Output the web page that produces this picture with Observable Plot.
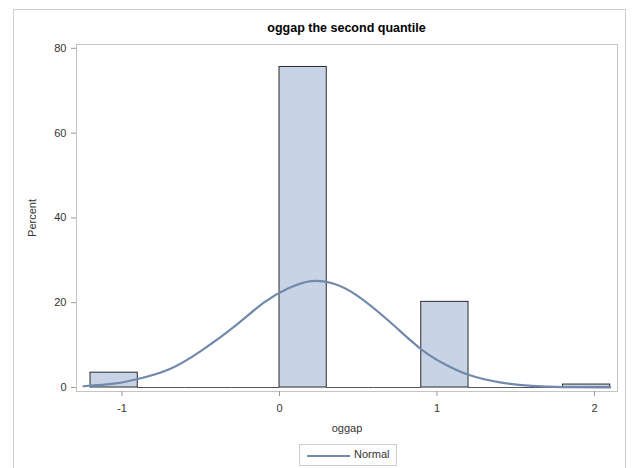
<!DOCTYPE html>
<html>
<head>
<meta charset="utf-8">
<script src="https://cdn.jsdelivr.net/npm/d3@7"></script>
<script src="https://cdn.jsdelivr.net/npm/@observablehq/plot@0.6"></script>
<style>
  body { margin: 0; background: #fff; font-family: "Liberation Sans", Arial, sans-serif; }
  #wrap { position: relative; width: 636px; height: 468px; overflow: hidden; }
  #border { position: absolute; left: 13px; top: 9px; width: 613px; height: 480px; border: 1px solid #cfcfcf; box-sizing: border-box; }
  #title { position: absolute; left: 76px; width: 541px; top: 21px; text-align: center; font-weight: bold; font-size: 12.5px; color: #000; }
  #legend { position: absolute; left: 299px; top: 444px; width: 98px; height: 22px; border: 1px solid #cfcfcf; box-sizing: border-box; font-size: 11px; color: #333; }
  #legend .ln { position: absolute; left: 7px; top: 10px; width: 43px; height: 0; border-top: 2px solid #7189ac; }
  #legend .tx { position: absolute; left: 54px; top: 3px; }
  #chart { position: absolute; left: 0; top: 0; }
</style>
</head>
<body>
<div id="wrap">
  <div id="border"></div>
  <div id="chart"></div>
  <div id="title">oggap the second quantile</div>
  <div id="legend"><div class="ln"></div><div class="tx">Normal</div></div>
</div>
<script>
// Histogram bins (width 0.3) and percent heights
const binStart = [-1.2, -0.9, -0.6, -0.3, 0.0, 0.3, 0.6, 0.9, 1.2, 1.5, 1.8];
const binEnd   = [-0.9, -0.6, -0.3, 0.0, 0.3, 0.6, 0.9, 1.2, 1.5, 1.8, 2.1];
const percent  = [3.5, 0, 0, 0, 75.6, 0, 0, 20.2, 0, 0, 0.7];

// Normal curve points
const curveX = [-1.245, -1.05, -0.9, -0.7, -0.5, -0.3, -0.1, 0.05, 0.2, 0.35, 0.5, 0.7, 0.9, 1.05, 1.2, 1.4, 1.6, 1.8, 2.1];
const curveY = [0.3, 0.9, 2.0, 4.3, 8.6, 14.0, 20.0, 23.3, 25.1, 24.4, 21.5, 15.5, 9.0, 5.5, 3.0, 1.2, 0.4, 0.1, 0.0];

const xTicks = [-1, 0, 1, 2];
const yTicks = [0, 20, 40, 60, 80];

const bins = binStart.map((s, i) => ({x1: s, x2: binEnd[i], y: percent[i]}));
const curve = curveX.map((x, i) => ({x, y: curveY[i]}));

const chart = Plot.plot({
  width: 636,
  height: 468,
  marginLeft: 76,
  marginRight: 19,
  marginTop: 44,
  marginBottom: 77,
  style: {fontFamily: "'Liberation Sans', Arial, sans-serif", fontSize: "11px", color: "#333", background: "transparent"},
  x: {domain: [-1.289, 2.146]},
  y: {domain: [-0.94, 80.9]},
  marks: [
    Plot.frame({stroke: "#c4c4c4"}),
    Plot.ruleY(bins.filter(d => d.y === 0), {x1: "x1", x2: "x2", y: 0, stroke: "#555", strokeWidth: 1}),
    Plot.rectY(bins.filter(d => d.y > 0), {x1: "x1", x2: "x2", y1: 0, y2: "y", fill: "#c8d4e5", stroke: "#2a2a2a", strokeWidth: 1}),
    Plot.line(curve, {x: "x", y: "y", curve: "natural", stroke: "#7189ac", strokeWidth: 2.2}),
    Plot.axisX({ticks: xTicks, tickFormat: d => String(d), tickSize: 5, tickPadding: 8, stroke: "#999", fill: "#333", label: "oggap", labelAnchor: "center", labelArrow: "none", labelOffset: 40}),
    Plot.axisY({ticks: yTicks, tickFormat: d => String(d), tickSize: 5, tickPadding: 5, stroke: "#999", fill: "#333", label: "Percent", labelAnchor: "center", labelArrow: "none", labelOffset: 48})
  ]
});
document.getElementById("chart").appendChild(chart);
</script>
</body>
</html>
